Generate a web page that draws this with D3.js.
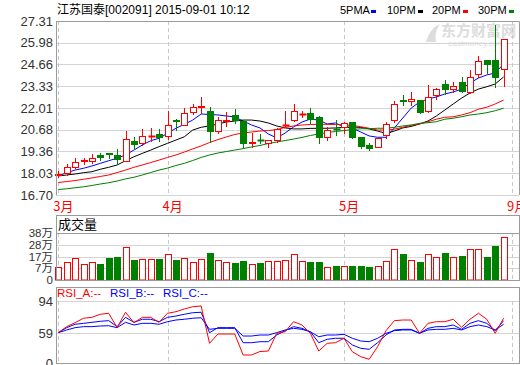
<!DOCTYPE html>
<html><head><meta charset="utf-8">
<script src="https://cdn.jsdelivr.net/npm/d3@7"></script>
<style>
body{margin:0;background:#fff}
svg{display:block}
text{font-family:"Liberation Sans",Arial,"Noto Sans CJK SC",sans-serif}
</style>
</head><body>
<svg id="c" width="520" height="365"></svg>
<script>
// ---------- data ----------
const openP  =[17.92,18.02,18.43,18.80,18.77,19.14,19.26,19.12,18.79,20.01,19.85,20.28,20.40,20.32,21.26,20.97,21.74,22.08,21.84,20.62,21.24,21.56,21.21,19.90,20.08,19.85,20.06,20.95,21.27,21.62,21.68,21.44,20.22,20.75,20.87,21.13,20.26,19.75,19.65,20.36,21.28,22.50,22.41,22.49,21.84,22.80,23.47,23.15,23.61,23.00,24.06,24.93,24.93,24.37];
const closeP =[17.96,18.39,18.71,18.84,18.98,19.04,19.22,18.91,20.10,19.79,20.30,20.31,20.22,20.97,21.22,21.68,22.05,22.12,20.62,21.26,21.30,21.28,19.89,19.94,20.04,20.06,20.71,20.99,21.84,21.66,21.32,20.26,20.67,20.71,21.07,20.26,19.69,19.55,20.16,21.03,22.25,22.45,22.55,21.78,22.70,23.15,23.15,23.37,23.06,23.88,24.89,24.67,23.88,26.19];
const highP  =[18.18,18.59,18.94,18.97,19.18,19.28,19.28,19.51,20.62,20.26,20.73,20.77,20.71,21.82,21.32,21.99,22.23,22.70,22.08,21.48,21.78,21.93,21.27,20.50,20.42,20.06,20.80,21.84,22.25,21.84,21.99,21.52,20.83,21.27,21.17,21.17,20.26,19.89,20.16,21.17,22.45,22.80,23.00,22.49,23.41,23.21,23.71,23.61,23.88,24.32,25.19,24.93,27.07,26.19];
const lowP   =[17.78,17.92,18.33,18.59,18.63,18.83,18.95,18.59,18.75,19.51,19.75,20.01,20.01,20.12,20.67,20.97,21.64,21.69,19.95,20.46,20.91,21.07,19.65,19.61,19.89,19.61,19.95,20.91,21.23,21.44,21.07,19.89,20.06,20.37,20.46,20.19,19.55,19.45,19.61,20.16,21.17,22.18,22.19,21.68,21.78,22.54,22.86,23.00,23.00,22.90,23.91,24.12,23.30,23.35];
const volume =[10.8,14.6,17.8,12.9,14.6,12.9,17.8,18.6,26.7,16.2,17.0,17.0,17.0,21.0,16.2,17.8,14.6,17.0,21.8,16.2,14.6,13.7,15.4,12.9,13.7,15.4,15.4,16.2,21.0,15.4,14.6,14.6,10.5,11.3,11.3,11.3,11.3,10.5,11.3,15.4,25.1,21.0,16.2,14.6,21.0,18.6,21.8,18.6,19.4,25.1,25.1,18.6,27.5,34.8];
const ma5  =[17.86,18.06,18.22,18.33,18.47,18.63,18.79,18.94,19.14,19.44,19.75,20.01,20.16,20.46,20.77,21.01,21.27,21.64,21.61,21.58,21.52,21.46,21.21,20.97,20.79,20.42,20.18,20.48,20.85,21.15,21.33,21.27,21.03,21.09,20.85,20.78,20.54,20.30,20.22,20.22,20.79,21.39,22.00,22.37,22.55,22.68,22.86,22.98,23.16,23.53,23.83,24.02,24.14,24.69];
const ma10 =[17.86,17.92,17.98,18.06,18.12,18.27,18.39,18.53,18.79,19.03,19.24,19.44,19.65,19.85,20.05,20.25,20.66,20.83,20.91,21.03,21.15,21.21,21.27,21.27,21.21,21.09,20.91,20.79,20.73,20.73,20.76,20.77,20.77,20.79,20.82,20.85,20.82,20.73,20.60,20.45,20.60,20.79,20.88,21.03,21.21,21.52,21.88,22.25,22.61,22.92,23.16,23.30,23.47,23.90];
const ma20 =[17.46,17.52,17.58,17.66,17.74,17.83,17.92,18.07,18.22,18.39,18.53,18.68,18.83,18.99,19.14,19.32,19.51,19.69,19.90,20.08,20.24,20.39,20.48,20.54,20.60,20.63,20.69,20.82,20.91,20.97,21.00,21.01,21.01,21.00,20.97,20.94,20.86,20.77,20.66,20.66,20.71,20.83,20.95,21.03,21.17,21.32,21.44,21.47,21.58,21.72,21.93,22.05,22.25,22.49];
const ma30 =[17.03,17.08,17.14,17.20,17.28,17.37,17.45,17.55,17.68,17.78,17.92,18.07,18.22,18.34,18.50,18.63,18.80,18.99,19.14,19.26,19.35,19.44,19.53,19.63,19.72,19.84,19.93,20.02,20.11,20.21,20.33,20.42,20.51,20.57,20.63,20.69,20.74,20.74,20.77,20.77,20.83,20.91,20.97,21.07,21.11,21.17,21.32,21.38,21.47,21.58,21.64,21.72,21.84,21.99];
const rsiA =[59.7,66.2,70.5,75.3,76.3,79.6,80.7,65.1,81.8,70.5,76.3,76.3,70.9,80.7,82.4,85.3,87.8,88.6,39.1,57.6,57.6,57.6,15.9,15.9,22.8,23.8,59.0,60.7,71.6,68.0,59.0,23.8,39.1,40.3,49.1,22.4,12.5,7.4,32.4,61.8,72.7,73.4,73.4,59.0,69.8,71.6,71.6,74.2,65.5,74.2,80.7,74.2,59.0,75.3];
const rsiB =[59.7,65.1,68.8,69.8,70.9,72.0,72.7,66.2,76.3,70.9,74.2,74.2,71.6,76.3,77.7,79.6,81.3,81.8,59.7,65.1,65.1,65.1,40.3,40.3,42.3,42.3,55.6,61.8,66.2,64.4,60.7,40.3,47.1,49.1,49.1,35.8,29.2,27.2,40.3,55.6,62.6,63.3,63.3,59.0,64.4,66.2,66.2,68.0,63.3,69.8,72.7,69.8,61.8,72.7];
const rsiC =[59.7,62.6,65.1,66.2,66.2,66.9,67.2,65.1,70.9,68.0,69.8,69.8,68.8,71.6,73.4,74.2,75.3,75.9,63.3,64.4,64.4,64.4,53.6,53.6,55.6,55.6,59.7,62.6,64.4,63.3,60.7,52.2,55.6,55.6,57.0,49.1,43.7,42.3,49.1,59.0,61.8,62.6,62.6,59.0,62.6,63.3,63.3,64.4,62.6,66.2,68.0,66.2,62.6,68.8];
const priceTicks=[27.31,25.98,24.66,23.33,22.01,20.68,19.36,18.03,16.70];
const volTickPos=[38,28.5,19,9.5,0];
const volTickLabels=["38万","28万","17万","7万","0"];
const rsiTicks=[94,59,0];
const monthLabels=["3月","4月","5月","9月"];
const monthIndex=[0,13,34,54];
const legendNames=["5PMA","10PM","20PM","30PM"];
const maColors=["#0000ff","#000000","#ff0000","#008000"];
const title="江苏国泰[002091] 2015-09-01 10:12";

// ---------- layout ----------
const svg=d3.select("#c");
const L=56, R=519;
const P={top:21,bot:195}, V={top:215,head:233,bot:280}, S={top:287,grid:301,bot:363};
const RED="#ff0000", GRN="#008000", GRID="#d4d4d4", BORDER="#9a9a9a", LBL="#333";

const n=openP.length;
const x=d3.scaleLinear().domain([0,54]).range([58.3,512]);
const yP=d3.scaleLinear().domain([16.70,27.31]).range([P.bot,P.top]);
const yV=d3.scaleLinear().domain([0,38]).range([V.bot,V.head]);
const yR=d3.scaleLinear().domain([0,59,94]).range([S.bot,333.3,S.grid]);
const cr=v=>Math.round(v)+0.5;

// watermark
const wm=svg.append("g").attr("fill","#dcdcdc");
wm.append("text").attr("x",441).attr("y",36).attr("font-size",15).attr("font-weight","bold")
  .style("font-family","'Noto Sans CJK SC'").text("东方财富网");
wm.append("text").attr("x",448).attr("y",46).attr("font-size",8).text("eastmoney.com");
wm.append("path").attr("d","M426,42 Q430,28 440,24 Q434,32 436,42 Z");

// title + legend
svg.append("text").attr("x",57).attr("y",14).attr("font-size",12).attr("fill","#000")
  .style("font-family","'Liberation Sans','Noto Sans CJK SC'").text(title);
const legX=[340,387,432,478];
legendNames.forEach((t,i)=>{
  svg.append("text").attr("x",legX[i]).attr("y",14).attr("font-size",11).attr("fill","#000").text(t);
  svg.append("rect").attr("x",legX[i]+31).attr("y",10).attr("width",5).attr("height",3).attr("fill",maColors[i]);
});

// ---------- price panel ----------
const gP=svg.append("g");
gP.selectAll("line.g").data(priceTicks).join("line")
  .attr("x1",L).attr("x2",R).attr("y1",d=>cr(yP(d))).attr("y2",d=>cr(yP(d)))
  .attr("stroke",GRID);
function monthLines(g,y0,y1){
  g.selectAll(null).data(monthIndex).join("line")
    .attr("x1",d=>cr(x(d))).attr("x2",d=>cr(x(d))).attr("y1",y0).attr("y2",y1)
    .attr("stroke","#c8c8c8").attr("stroke-dasharray","4,3");
}
monthLines(gP,P.top,P.bot);

// MA lines
[ma5,ma10,ma20,ma30].forEach((arr,k)=>{
  gP.append("path").datum(arr)
    .attr("d",d3.line().x((d,i)=>x(i)).y(d=>yP(d)))
    .attr("fill","none").attr("stroke",maColors[k]).attr("stroke-width",1);
});

// candles
const idx=d3.range(n);
const cg=gP.selectAll("g.c").data(idx).join("g");
cg.each(function(i){
  const g=d3.select(this);
  const up=closeP[i]>=openP[i];
  const col=up?RED:GRN;
  const cx=cr(x(i));
  const yo=yP(openP[i]), yc=yP(closeP[i]);
  const top=Math.round(Math.min(yo,yc)), bot=Math.round(Math.max(yo,yc));
  g.append("line").attr("x1",cx).attr("x2",cx).attr("y1",Math.round(yP(highP[i]))).attr("y2",Math.round(yP(lowP[i]))+1)
    .attr("stroke",col);
  if(bot-top<1){
    g.append("line").attr("x1",cx-3).attr("x2",cx+4).attr("y1",top+0.5).attr("y2",top+0.5).attr("stroke",col).attr("stroke-width",2);
  } else {
    g.append("rect").attr("x",cx-3).attr("y",top+0.5).attr("width",6).attr("height",bot-top)
      .attr("fill",up?"#fff":GRN).attr("stroke",col);
  }
});
// price border
gP.append("path").attr("d",`M${L+0.5},${P.bot}V${P.top+0.5}H${R+0.5}V${P.bot}`)
  .attr("fill","none").attr("stroke",BORDER);

// price axis
const axP=svg.append("g").attr("transform",`translate(53,0)`)
  .call(d3.axisLeft(yP).tickValues(priceTicks).tickFormat(d3.format(".2f")).tickSize(0).tickPadding(0));
axP.select(".domain").remove();
axP.selectAll("text").attr("font-size",13).attr("fill",LBL).attr("font-family",null);

// month labels
svg.selectAll("text.m").data(monthIndex).join("text")
  .attr("x",d=>x(d)-5).attr("y",211).attr("font-size",13).attr("fill",RED)
  .style("font-family","'Noto Sans CJK SC'").text((d,i)=>monthLabels[i]);

// ---------- volume panel ----------
const gV=svg.append("g");
gV.selectAll(null).data(volTickPos.slice(1,4)).join("line")
  .attr("x1",L).attr("x2",R).attr("y1",d=>cr(yV(d))).attr("y2",d=>cr(yV(d))).attr("stroke",GRID);
monthLines(gV,V.head,V.bot);
gV.selectAll("rect.v").data(idx).join("rect")
  .attr("x",i=>cr(x(i))-3).attr("y",i=>Math.round(yV(volume[i]))+0.5)
  .attr("width",6).attr("height",i=>V.bot-Math.round(yV(volume[i]))-0.5)
  .attr("fill",i=>closeP[i]>=openP[i]?"#fff":GRN)
  .attr("stroke",i=>closeP[i]>=openP[i]?RED:GRN);
gV.append("rect").attr("x",L+0.5).attr("y",V.top+0.5).attr("width",R-L).attr("height",V.bot-V.top)
  .attr("fill","none").attr("stroke",BORDER);
gV.append("line").attr("x1",L).attr("x2",R).attr("y1",V.head+0.5).attr("y2",V.head+0.5).attr("stroke",BORDER);
svg.append("text").attr("x",58).attr("y",229).attr("font-size",13).attr("fill","#000")
  .style("font-family","'Noto Sans CJK SC'").text("成交量");
const axV=svg.append("g").attr("transform","translate(53,0)")
  .call(d3.axisLeft(yV).tickValues(volTickPos).tickFormat((d,i)=>volTickLabels[i]).tickSize(0).tickPadding(0));
axV.select(".domain").remove();
axV.selectAll("text").attr("font-size",11.5).attr("fill",LBL).attr("font-family",null)
  .style("font-family","'Liberation Sans','Noto Sans CJK SC'");

// ---------- RSI panel ----------
const gR=svg.append("g");
gR.selectAll(null).data(rsiTicks.slice(0,2)).join("line")
  .attr("x1",L).attr("x2",R).attr("y1",d=>cr(yR(d))).attr("y2",d=>cr(yR(d))).attr("stroke",GRID);
monthLines(gR,S.grid,S.bot);
[[rsiC,"#0000ff"],[rsiB,"#0000ff"],[rsiA,RED]].forEach(([arr,c])=>{
  gR.append("path").datum(arr).attr("d",d3.line().x((d,i)=>x(i)).y(d=>yR(d)))
    .attr("fill","none").attr("stroke",c).attr("stroke-width",1);
});
gR.append("rect").attr("x",L+0.5).attr("y",S.top+0.5).attr("width",R-L).attr("height",S.bot-S.top)
  .attr("fill","none").attr("stroke",BORDER);
const rsiHead=[["RSI_A:--",RED,57],["RSI_B:--","#0000ff",110],["RSI_C:--","#0000ff",163]];
rsiHead.forEach(([t,c,xx])=>svg.append("text").attr("x",xx).attr("y",297).attr("font-size",11.5).attr("fill",c).text(t));
const axR=svg.append("g").attr("transform","translate(53,0)")
  .call(d3.axisLeft(yR).tickValues(rsiTicks).tickFormat(d3.format("d")).tickSize(0).tickPadding(0));
axR.select(".domain").remove();
axR.selectAll("text").attr("font-size",13).attr("fill",LBL).attr("font-family",null);
</script>
</body></html>
